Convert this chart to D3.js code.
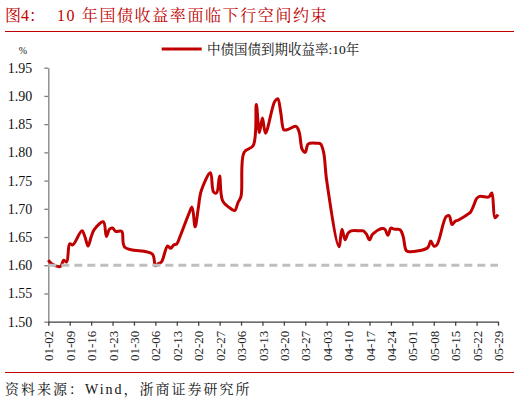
<!DOCTYPE html>
<html>
<head>
<meta charset="utf-8">
<script src="https://cdn.jsdelivr.net/npm/d3@7"></script>
<style>
	body { margin: 0; background: #fff; }
	svg { display: block; }
</style>
</head>
<body>
<svg id="chart" width="520" height="402"></svg>
<script>
// 中债国债到期收益率:10年 (trading days, 2025)
var dates = ["01-02","01-03","01-06","01-07","01-08","01-09","01-10","01-13","01-14","01-15","01-16","01-17",
	"01-20","01-21","01-22","01-23","01-24","01-26","01-27","02-05","02-06","02-07","02-08","02-10","02-11",
	"02-12","02-13","02-14","02-17","02-18","02-19","02-20","02-21","02-24","02-25","02-26","02-27","02-28",
	"03-03","03-04","03-05","03-06","03-07","03-10","03-11","03-12","03-13","03-14","03-17","03-18","03-19",
	"03-20","03-21","03-24","03-25","03-26","03-27","03-28","03-31","04-01","04-02","04-03","04-07","04-08",
	"04-09","04-10","04-11","04-14","04-15","04-16","04-17","04-18","04-21","04-22","04-23","04-24","04-25",
	"04-27","04-28","04-29","04-30","05-06","05-07","05-08","05-09","05-12","05-13","05-14","05-15","05-16",
	"05-19","05-20","05-21","05-22","05-23","05-26","05-27","05-28","05-29"];
var yields = [1.609,1.603,1.598,1.609,1.606,1.638,1.636,1.661,1.650,1.634,1.650,1.663,
	1.677,1.651,1.664,1.666,1.660,1.660,1.632,1.620,1.599,1.603,1.606,1.634,1.630,
	1.636,1.638,1.650,1.692,1.703,1.668,1.700,1.732,1.764,1.730,1.728,1.758,1.714,
	1.699,1.697,1.711,1.722,1.800,1.812,1.885,1.835,1.861,1.834,1.890,1.895,1.870,
	1.840,1.840,1.846,1.836,1.805,1.800,1.815,1.816,1.815,1.800,1.750,1.633,1.664,
	1.645,1.657,1.661,1.661,1.661,1.655,1.645,1.655,1.665,1.664,1.653,1.666,1.664,
	1.663,1.651,1.626,1.624,1.631,1.643,1.634,1.636,1.686,1.688,1.672,1.678,1.680,
	1.690,1.694,1.705,1.718,1.722,1.721,1.728,1.684,1.690];
var tickLabels = ["01-02","01-09","01-16","01-23","01-30","02-06","02-13","02-20","02-27","03-06","03-13",
	"03-20","03-27","04-03","04-10","04-17","04-24","05-01","05-08","05-15","05-22","05-29"];
var yTicks = [1.50,1.55,1.60,1.65,1.70,1.75,1.80,1.85,1.90,1.95];
var refLevel = 1.60;
var seriesName = "中债国债到期收益率:10年";

var FONT = '"Liberation Serif", "Times New Roman", "Noto Serif CJK SC", "Noto Sans CJK SC", serif';
var parseDate = d3.timeParse("%Y-%m-%d");
function toDate(md) { return parseDate("2025-" + md); }

var red = "#c00000";
var svg = d3.select("#chart");

var x = d3.scaleTime()
	.domain([toDate(tickLabels[0]), toDate(tickLabels[tickLabels.length - 1])])
	.range([48.3, 498]);
var y = d3.scaleLinear()
	.domain([1.50, 1.95])
	.range([321.7, 67.7]);

function label(px, py, size, color, txt) {
	return svg.append("text")
		.attr("x", px).attr("y", py)
		.attr("fill", color)
		.style("font-family", FONT)
		.style("font-size", size + "px")
		.text(txt);
}

// title + rules
label(5, 21, 16, red, "图4：");
label(57, 21, 16, red, "10 年国债收益率面临下行空间约束").style("letter-spacing", "1.6px");
svg.append("line").attr("x1", 5).attr("x2", 514).attr("y1", 31.5).attr("y2", 31.5)
	.attr("stroke", red).attr("stroke-width", 1);
svg.append("line").attr("x1", 5).attr("x2", 514).attr("y1", 372.5).attr("y2", 372.5)
	.attr("stroke", red).attr("stroke-width", 1);

label(5, 394, 14, "#111", "资料来源：Wind，浙商证券研究所").style("letter-spacing", "2px");

// unit
label(23, 54, 10, "#222", "%").attr("text-anchor", "middle");

// legend
svg.append("line").attr("x1", 161.7).attr("x2", 201.7).attr("y1", 49).attr("y2", 49)
	.attr("stroke", red).attr("stroke-width", 3);
label(207, 54, 13.5, "#111", seriesName);

// axes
var yAxis = svg.append("g")
	.attr("transform", "translate(" + x.range()[0] + ",0)")
	.call(d3.axisLeft(y).tickValues(yTicks).tickFormat(d3.format(".2f")).tickSizeInner(4).tickSizeOuter(0).tickPadding(12));
yAxis.attr("font-family", null);
yAxis.selectAll("path, line").attr("stroke", "#808080").attr("stroke-width", 1.3);
yAxis.selectAll("text").style("font-family", FONT).style("font-size", "14px").attr("fill", "#111");

var xAxis = svg.append("g")
	.attr("transform", "translate(0," + y(1.50) + ")")
	.call(d3.axisBottom(x).tickValues(tickLabels.map(toDate)).tickFormat(d3.timeFormat("%m-%d")).tickSizeInner(4).tickSizeOuter(0));
xAxis.attr("font-family", null);
xAxis.select("path").attr("stroke", "#404040").attr("stroke-width", 1.3);
xAxis.selectAll("line").attr("stroke", "#404040").attr("stroke-width", 1.3);
xAxis.selectAll("text")
	.style("font-family", FONT)
	.style("font-size", "13px").attr("fill", "#222")
	.attr("transform", "rotate(-90)")
	.attr("x", -9).attr("y", 0).attr("dy", "0.35em")
	.style("text-anchor", "end");

// series
var points = dates.map(function(d, i) { return { date: toDate(d), value: yields[i] }; });

var line = d3.line()
	.x(function(d) { return x(d.date); })
	.y(function(d) { return y(d.value); })
	.curve(d3.curveCatmullRom.alpha(0.5));

svg.append("path")
	.datum(points)
	.attr("d", line)
	.attr("fill", "none")
	.attr("stroke", red)
	.attr("stroke-width", 3)
	.attr("stroke-linejoin", "round");

svg.append("line")
	.attr("x1", x.range()[0]).attr("x2", x.range()[1])
	.attr("y1", y(refLevel)).attr("y2", y(refLevel))
	.attr("stroke", "#bfbfbf").attr("stroke-width", 3)
	.attr("stroke-dasharray", "8,5");
</script>
</body>
</html>
